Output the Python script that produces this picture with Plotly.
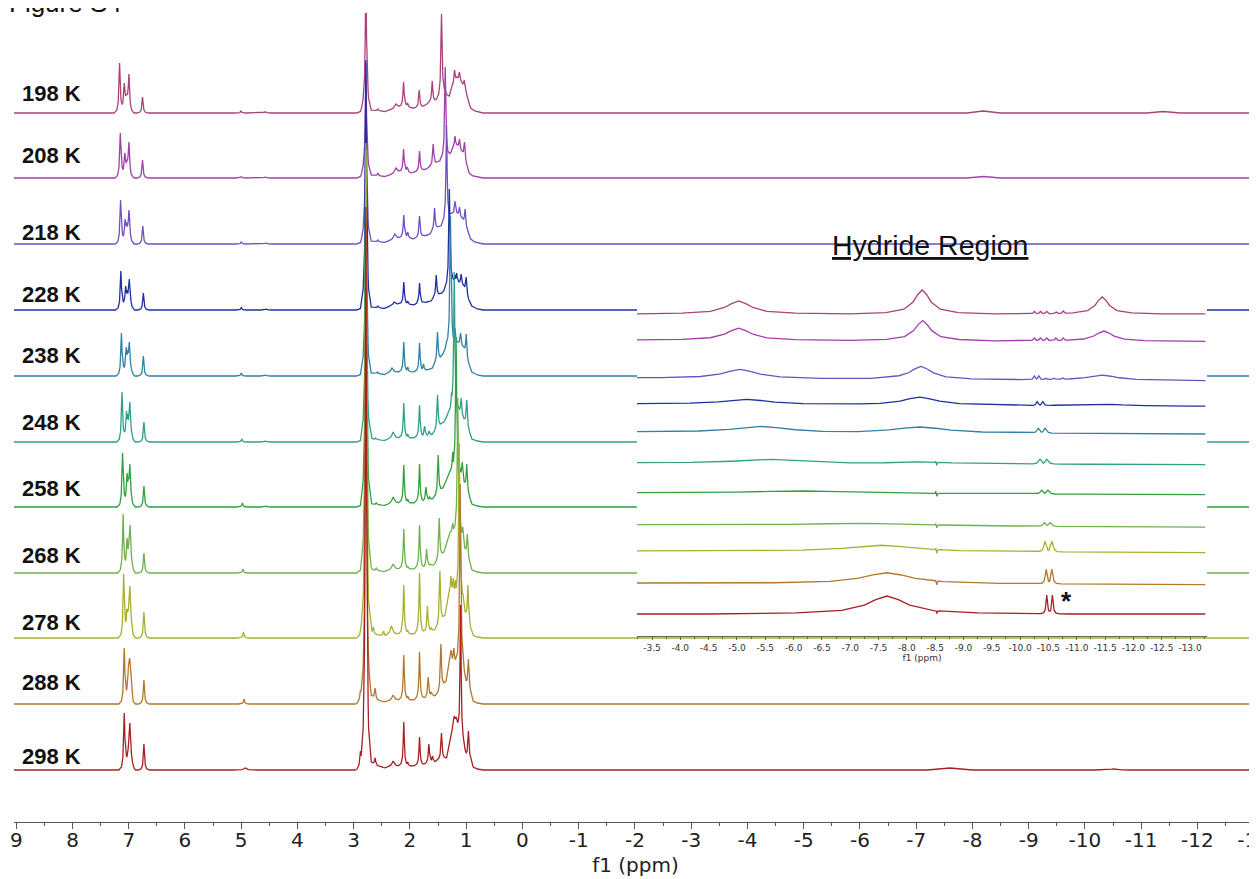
import numpy as np
import plotly.graph_objects as go

# ---------------- data ----------------
TEMPS = ["198 K", "208 K", "218 K", "228 K", "238 K", "248 K",
         "258 K", "268 K", "278 K", "288 K", "298 K"]
COLORS = ["#A8437A", "#A040A8", "#7050C0", "#2030A0", "#3080A8", "#30A088",
          "#30A040", "#70B050", "#A8B030", "#B07830", "#A82020"]

# vertical stacking offsets of the main spectra and of the inset spectra
MAIN_OFFSET = [709, 644, 578, 512, 446, 380, 315, 249, 184, 118, 52]
INSET_OFFSET = [322, 296, 258, 232, 204, 173, 143, 111, 85, 53, 22]
LABEL_Y = [728.7, 667, 590, 528, 467, 400, 334, 267, 200, 140, 66]
# traces whose middle part is hidden by the inset
HIDDEN_BY_INSET = [False, False, True, True, True, True, True, True, True, False, False]

# broad baseline features (ppm, level)
H198 = [(7.22,0),(7.12,5),(7.04,16),(6.96,2),(6.92,0),(2.95,0),(2.86,2),(2.81,10),(2.76,10),(2.70,3),(2.45,1.5),(2.30,4),(2.20,6),(2.08,7),(1.98,5),(1.90,5),(1.78,6),(1.70,9),(1.64,11),(1.55,12),(1.50,14),(1.40,20),(1.30,17),(1.26,25),(1.165,35),(1.08,30),(1.00,20),(0.97,13),(0.92,5),(0.85,2),(0.70,0),(-7.9,0),(-8.19,2),(-8.5,0),(-11.1,0),(-11.39,1.5),(-11.7,0)]
H208 = [(7.21,0),(7.11,5),(7.03,14),(6.96,2),(6.92,0),(2.95,0),(2.86,2),(2.81,10),(2.76,10),(2.70,3),(2.45,1.5),(2.30,4),(2.20,6),(2.08,7),(1.98,5),(1.90,6),(1.75,8),(1.65,11),(1.55,14),(1.45,18),(1.30,22),(1.25,28),(1.16,32),(1.075,26),(0.99,12),(0.95,5),(0.88,2),(0.70,0),(-7.9,0),(-8.2,1.5),(-8.5,0)]
H218 = [(7.20,0),(7.10,5),(7.02,14),(6.95,2),(6.91,0),(2.95,0),(2.86,2),(2.81,10),(2.76,10),(2.70,3),(2.45,1.5),(2.32,4),(2.20,6),(2.06,7),(1.95,5),(1.88,6),(1.75,8),(1.64,10),(1.60,13),(1.45,18),(1.30,25),(1.26,30),(1.16,30),(1.07,25),(0.97,12),(0.92,5),(0.85,2),(0.70,0)]
H228 = [(7.19,0),(7.10,5),(7.01,13),(6.94,2),(6.90,0),(2.95,0),(2.86,2),(2.81,10),(2.76,10),(2.70,3),(2.45,1.5),(2.34,4),(2.20,6),(2.06,6),(1.95,5),(1.85,6),(1.70,8),(1.62,9),(1.58,12),(1.45,16),(1.36,22),(1.24,28),(1.13,27),(1.05,24),(0.96,10),(0.90,4),(0.80,1),(0.70,0)]
H238 = [(7.18,0),(7.09,5),(7.005,16),(6.94,2),(6.90,0),(2.95,0),(2.86,2),(2.81,10),(2.76,10),(2.70,3),(2.45,1.5),(2.36,3),(2.20,4),(2.06,4),(1.95,4),(1.80,5),(1.70,6),(1.60,8),(1.56,12),(1.45,18),(1.35,30),(1.15,33),(1.05,28),(0.96,12),(0.90,4),(0.80,1),(0.70,0)]
H248 = [(7.17,0),(7.085,5),(7.00,17),(6.93,2),(6.89,0),(2.95,0),(2.86,2),(2.81,10),(2.76,10),(2.68,3),(2.45,1.5),(2.36,3),(2.20,4),(2.06,4),(1.95,4),(1.80,5),(1.70,6),(1.62,7),(1.55,10),(1.40,20),(1.30,30),(1.12,30),(1.04,22),(0.95,10),(0.90,3),(0.80,1),(0.70,0)]
H258 = [(7.16,0),(7.075,5),(6.995,18),(6.93,2),(6.89,0),(2.95,0),(2.86,2),(2.81,10),(2.76,10),(2.68,3),(2.45,1.5),(2.36,3),(2.20,4),(2.06,4),(1.95,4),(1.78,5),(1.68,7),(1.60,8),(1.55,10),(1.42,18),(1.30,35),(1.12,35),(1.03,22),(0.95,10),(0.90,3),(0.80,1),(0.70,0)]
H268 = [(7.15,0),(7.07,5),(6.99,20),(6.92,2),(6.88,0),(2.95,0),(2.89,2),(2.81,10),(2.76,10),(2.66,3),(2.45,1.5),(2.36,3),(2.20,4),(2.06,4),(1.95,4),(1.77,5),(1.67,7),(1.58,8),(1.53,10),(1.40,20),(1.30,40),(1.10,40),(1.02,22),(0.94,10),(0.90,3),(0.80,1),(0.70,0)]
H278 = [(7.14,0),(7.06,6),(6.995,28),(6.92,2),(6.88,0),(2.95,0),(2.90,2),(2.81,10),(2.76,10),(2.66,4),(2.45,2),(2.38,3),(2.20,4),(2.06,4),(1.95,4),(1.76,5),(1.66,7),(1.56,8),(1.52,10),(1.38,22),(1.30,45),(1.09,40),(1.01,22),(0.93,10),(0.89,3),(0.80,1),(0.70,0)]
H288 = [(7.13,0),(7.04,8),(6.99,38),(6.92,2),(6.88,0),(2.95,0),(2.92,2),(2.81,10),(2.76,10),(2.58,4),(2.45,2),(2.38,3),(2.20,4),(2.06,4),(1.95,4),(1.76,5),(1.64,8),(1.56,8),(1.50,10),(1.36,22),(1.30,45),(1.07,38),(1.00,20),(0.92,10),(0.88,3),(0.80,1),(0.70,0)]
H298 = [(7.13,0),(7.04,8),(6.99,22),(6.92,2),(6.88,0),(2.95,0),(2.92,2),(2.81,10),(2.76,10),(2.58,4),(2.45,2),(2.38,3),(2.20,4),(2.06,4),(1.95,4),(1.76,5),(1.64,8),(1.56,8),(1.50,10),(1.35,12),(1.28,30),(1.22,48),(1.16,45),(1.13,30),(1.04,22),(1.00,14),(0.92,10),(0.88,3),(0.80,1),(0.70,0),(-7.2,0),(-7.6,2),(-8.0,0)]

# sharp peaks (ppm, height[, half-width])
P198 = [(7.163,50),(7.08,30),(6.997,39),(6.755,16),(5.006,2),(4.57,1.5),(2.784,140),(2.72,5),(2.57,4),(2.25,9,0.025),(2.114,31),(2.043,10),(1.836,23),(1.604,32),(1.439,99),(1.208,43),(1.12,41),(1.036,33)]
P208 = [(7.15,45),(7.07,25),(6.997,36),(6.755,18),(5.0,1.5),(4.57,1.2),(2.784,115),(2.72,6),(2.57,5),(2.25,10,0.025),(2.114,29),(2.05,11),(1.83,27),(1.587,34),(1.373,111),(1.20,42),(1.12,39),(1.03,36)]
P218 = [(7.145,44),(7.065,25),(7.045,22),(6.995,34),(6.75,18),(5.0,2),(4.56,1.2),(2.784,164),(2.72,5),(2.57,4),(2.27,10,0.025),(2.11,29),(2.04,12),(1.83,28),(1.563,36),(1.35,119),(1.20,43),(1.12,37),(1.02,35)]
P228 = [(7.14,39),(7.055,24),(7.03,20),(6.99,31),(6.74,17),(5.0,2.5),(4.56,1.2),(2.784,250),(2.72,5),(2.57,4),(2.28,8,0.025),(2.11,28),(2.04,9),(1.83,27),(1.77,7),(1.533,35),(1.30,121),(1.20,35),(1.17,37),(1.09,36),(1.0,33)]
P238 = [(7.13,43),(7.045,29),(7.02,26),(6.99,34),(6.74,20),(5.0,3),(4.57,1.2),(2.784,226),(2.72,5),(2.58,4),(2.32,8,0.025),(2.11,34),(2.04,9),(1.83,33),(1.76,12),(1.51,44),(1.28,160),(1.20,48),(1.10,43),(1.00,42)]
P248 = [(7.12,50),(7.04,31),(7.02,28),(6.98,40),(6.73,20),(4.99,3),(4.57,1.2),(2.784,281),(2.70,8),(2.61,4),(2.30,10,0.025),(2.11,39),(2.04,8),(1.83,37),(1.74,16),(1.66,11),(1.51,47),(1.26,50),(1.213,170),(1.09,44),(0.99,42)]
P258 = [(7.11,54),(7.03,34),(7.01,30),(6.98,43),(6.73,21),(4.98,4),(4.56,1.2),(2.784,347),(2.72,9),(2.60,4),(2.30,10,0.025),(2.11,42),(2.04,8),(1.83,43),(1.716,20),(1.65,10),(1.498,52),(1.24,55),(1.18,170),(1.07,45),(0.99,43)]
P268 = [(7.10,59),(7.03,35),(7.00,30),(6.975,48),(6.73,20),(4.97,4),(2.84,6),(2.784,423),(2.72,9),(2.60,5),(2.30,9,0.025),(2.11,44),(2.04,7),(1.83,48),(1.705,24),(1.64,9),(1.48,55),(1.24,50),(1.20,46),(1.15,175),(1.06,46),(0.98,39)]
P278 = [(7.09,64),(7.035,29),(6.98,52),(6.73,26),(4.96,6),(2.867,12),(2.83,9),(2.784,495),(2.70,16),(2.65,11),(2.47,7),(2.33,12,0.025),(2.11,53),(2.04,8),(1.83,65),(1.69,32),(1.62,10),(1.468,67),(1.27,62),(1.23,60),(1.19,58),(1.124,195),(1.06,45),(0.97,53)]
P288 = [(7.08,56),(7.00,44),(6.98,45),(6.73,24),(4.95,5),(2.88,14),(2.82,11),(2.784,489),(2.73,16),(2.68,9),(2.62,16),(2.30,9,0.025),(2.11,49),(2.04,8),(1.83,52),(1.676,27),(1.62,12),(1.45,60),(1.27,54),(1.22,56),(1.17,50),(1.107,220),(1.03,30),(0.96,45)]
P298 = [(7.08,57),(7.00,28),(6.98,47),(6.73,26),(4.93,2,0.03),(2.88,19),(2.84,9),(2.784,563),(2.72,15),(2.62,12),(2.30,9,0.025),(2.11,48),(2.04,8),(1.83,33),(1.664,26),(1.60,14),(1.44,37),(1.213,54,0.02),(1.18,53,0.02),(1.10,165),(0.96,39),(-10.5,1,0.04)]

MAIN_HUMPS = [H198, H208, H218, H228, H238, H248, H258, H268, H278, H288, H298]
MAIN_PEAKS = [P198, P208, P218, P228, P238, P248, P258, P268, P278, P288, P298]

# hydride-region inset: baseline drift and peaks (ppm, height, half-width)
INSET_DRIFT = [0, 1.3, 2.7, 2.3, 2.0, 1.7, 1.7, 2.3, 1.7, 1.7, 0]
I198 = [(-5.03,13,0.25),(-8.27,24,0.16),(-11.45,17,0.13),(-10.25,2.5,0.02),(-10.36,2.5,0.02),(-10.47,2.5,0.02),(-10.63,2.5,0.02),(-10.76,3,0.02)]
I208 = [(-5.03,12,0.25),(-8.28,20,0.16),(-11.48,10,0.18),(-10.25,3,0.02),(-10.36,3,0.02),(-10.47,3,0.02),(-10.63,3,0.02),(-10.76,3,0.02)]
I218 = [(-5.06,9,0.35),(-8.25,13,0.22),(-11.45,5,0.3),(-10.25,4,0.02),(-10.33,4,0.02),(-10.45,2,0.02),(-10.6,2,0.02),(-10.75,2,0.02)]
I228 = [(-5.17,5,0.5),(-8.23,8,0.35),(-11.4,2,0.4),(-10.30,4,0.02),(-10.40,4,0.02)]
I238 = [(-5.42,6,0.55),(-8.23,6,0.55),(-10.32,5,0.03),(-10.44,5,0.03)]
I248 = [(-5.6,4,0.7),(-8.2,2,0.6),(-10.35,5,0.03),(-10.47,5,0.03),(-8.51,3,0.005),(-8.53,-3,0.005)]
I258 = [(-6.2,2.5,1.2),(-10.38,4,0.03),(-10.49,4,0.03),(-8.51,3,0.005),(-8.53,-3,0.005)]
I268 = [(-7.26,2.5,1.3),(-10.43,4,0.03),(-10.53,4,0.03),(-8.51,3,0.005),(-8.53,-3,0.005)]
I278 = [(-7.55,6.5,0.7),(-10.44,11,0.025),(-10.56,11,0.025),(-8.51,4,0.005),(-8.53,-4,0.005)]
I288 = [(-7.65,11,0.5),(-10.46,15,0.02),(-10.56,15,0.02),(-8.51,4,0.005),(-8.53,-4,0.005)]
I298 = [(-7.65,18,0.4),(-10.47,19,0.015),(-10.57,19,0.015),(-8.51,3,0.005),(-8.53,-3,0.005)]
INSET_PEAKS = [I198, I208, I218, I228, I238, I248, I258, I268, I278, I288, I298]

MAIN_TICKS = list(range(9, -14, -1))
INSET_TICKS = [-3.5, -4.0, -4.5, -5.0, -5.5, -6.0, -6.5, -7.0, -7.5, -8.0, -8.5,
               -9.0, -9.5, -10.0, -10.5, -11.0, -11.5, -12.0, -12.5, -13.0]

# ---------------- drawing helpers ----------------
PROF_D = np.array([0, 0.5, 1, 2, 4, 8])
PROF_F = np.array([1, 0.8, 0.5, 0.2, 0.06, 0])
SHARP = 0.012


def spectrum(hump, peaks, lo, hi, relative=False):
    hx = np.array([p[0] for p in hump], dtype=float)
    hy = np.array([p[1] for p in hump], dtype=float)
    order = np.argsort(hx)
    hx, hy = hx[order], hy[order]
    xs = {lo, hi}
    xs.update(x for x in hx if lo <= x <= hi)
    for pk in peaks:
        c, w = pk[0], (pk[2] if len(pk) > 2 else SHARP)
        for d in PROF_D:
            for s in (-1, 1):
                x = c + s * d * w
                if lo <= x <= hi:
                    xs.add(round(x, 6))
    xs = np.array(sorted(xs, reverse=True))
    base = np.interp(xs, hx, hy)
    pos = np.zeros_like(xs)
    neg = np.zeros_like(xs)
    for pk in peaks:
        c, h, w = pk[0], pk[1], (pk[2] if len(pk) > 2 else SHARP)
        amp = h if (relative or h < 0) else h - np.interp(c, hx, hy)
        prof = amp * np.interp(np.abs(xs - c) / w, PROF_D, PROF_F)
        if amp >= 0:
            pos = np.maximum(pos, prof)
        else:
            neg = np.minimum(neg, prof)
    return xs, base + pos + neg


fig = go.Figure()

MAIN_LO, MAIN_HI = -13.3, 9.2
GAP_L, GAP_R = -1.862, -12.33
for i in range(len(TEMPS)):
    hump = MAIN_HUMPS[i]
    if HIDDEN_BY_INSET[i]:
        hump = hump + [(GAP_L, 0), (GAP_R, 0)]
    xs, ys = spectrum(hump, MAIN_PEAKS[i], MAIN_LO, MAIN_HI)
    ys = ys + MAIN_OFFSET[i]
    xl, yl = list(xs), list(ys)
    if HIDDEN_BY_INSET[i]:
        xl2, yl2 = [], []
        inserted = False
        for x, y in zip(xl, yl):
            if GAP_R < x < GAP_L:
                if not inserted:
                    xl2.append(None)
                    yl2.append(None)
                    inserted = True
                continue
            xl2.append(x)
            yl2.append(y)
        xl, yl = xl2, yl2
    fig.add_trace(go.Scatter(x=xl, y=yl, mode="lines",
                             line=dict(color=COLORS[i], width=1.3),
                             hoverinfo="skip", showlegend=False,
                             xaxis="x", yaxis="y"))

IN_LO, IN_HI = -13.27, -3.235
for i in range(len(TEMPS)):
    drift = [(IN_HI, 0.0), (IN_LO, -INSET_DRIFT[i])]
    xs, ys = spectrum(drift, INSET_PEAKS[i], IN_LO, IN_HI, relative=True)
    fig.add_trace(go.Scatter(x=list(xs), y=list(ys + INSET_OFFSET[i]), mode="lines",
                             line=dict(color=COLORS[i], width=1.3),
                             hoverinfo="skip", showlegend=False,
                             xaxis="x2", yaxis="y2"))

# temperature labels
for t, ly in zip(TEMPS, LABEL_Y):
    fig.add_annotation(x=8.93, y=ly, xref="x", yref="y", text="<b>%s</b>" % t,
                       showarrow=False, xanchor="left", yanchor="middle",
                       font=dict(family="Liberation Sans, Arial, sans-serif", size=22, color="#111"))

fig.add_annotation(x=0.737, y=0.713, xref="paper", yref="paper", xanchor="center",
                   yanchor="middle", text="<u>Hydride Region</u>", showarrow=False,
                   font=dict(family="Liberation Sans, Arial, sans-serif", size=28.5, color="#111"))
fig.add_annotation(x=-10.81, y=35, xref="x2", yref="y2", xanchor="center", yanchor="middle",
                   text="<b>*</b>", showarrow=False,
                   font=dict(family="Liberation Sans, Arial, sans-serif", size=26, color="#111"))
fig.add_annotation(x=-0.0056, y=1.0125, xref="paper", yref="paper", text="Figure S4",
                   showarrow=False, xanchor="left", yanchor="middle",
                   font=dict(family="Liberation Sans, Arial, sans-serif", size=26, color="#111"))

axis_font = dict(family="DejaVu Sans, sans-serif", size=20, color="#222")
# the page body has an 8 px margin, so the figure is placed 8 px in and down
fig.update_layout(
    width=1257, height=879,
    margin=dict(l=6, r=8, t=5, b=65, autoexpand=False),
    paper_bgcolor="white", plot_bgcolor="white", showlegend=False,
    xaxis=dict(range=[9.04, -13.06], domain=[0, 1], showline=True, linecolor="#555",
               linewidth=1, ticks="outside", ticklen=6, tickwidth=1, tickcolor="#555",
               tickmode="array", tickvals=MAIN_TICKS, ticktext=[str(v) for v in MAIN_TICKS],
               showgrid=False, zeroline=False, tickfont=axis_font, automargin=False,
               ticklabeloverflow="allow", ticklabelstandoff=-6,
               title=dict(text="f1 (ppm)", font=axis_font, standoff=6),
               minor=dict(dtick=0.5, tick0=0, ticklen=3, tickcolor="#555", ticks="outside",
                          showgrid=False)),
    yaxis=dict(range=[0, 809], visible=False, domain=[0, 1], fixedrange=True, automargin=False),
    xaxis2=dict(range=[-3.235, -13.30], domain=[0.5012, 0.9598], anchor="y2",
                showline=True, linecolor="#666", linewidth=1, ticks="outside", ticklen=3,
                tickcolor="#666", tickmode="array", tickvals=INSET_TICKS, automargin=False,
                ticktext=["%.1f" % v for v in INSET_TICKS], showgrid=False, zeroline=False,
                tickfont=dict(family="DejaVu Sans, sans-serif", size=9, color="#333"),
                title=dict(text="f1 (ppm)", font=dict(family="DejaVu Sans, sans-serif", size=9,
                                                    color="#333"), standoff=1),
                minor=dict(dtick=0.25, tick0=0, ticklen=2, tickcolor="#666", ticks="outside",
                           showgrid=False)),
    yaxis2=dict(range=[0, 356], domain=[0.2299, 0.670], anchor="x2", visible=False,
                automargin=False),
)

fig.write_html("out.html")
